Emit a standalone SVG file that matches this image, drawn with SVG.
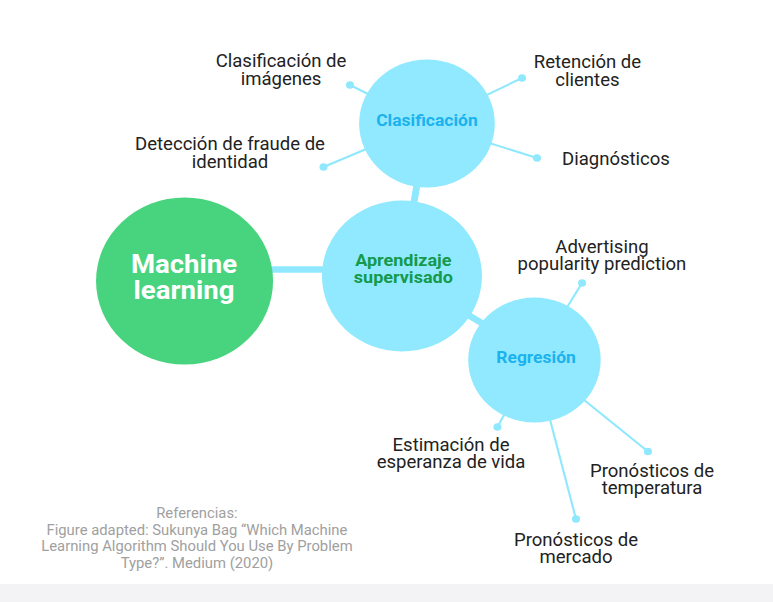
<svg xmlns="http://www.w3.org/2000/svg" width="773" height="602" viewBox="0 0 773 602">
<style>
.bg{fill:#ffffff}
.strip{fill:#f3f3f5}
.thick{stroke:#8fe8fd;stroke-width:6.5;fill:none}
.thin{stroke:#8fe8fd;stroke-width:2;fill:none}
.dot{fill:#8fe8fd}
.bub{fill:#90e9fe}
.ml{fill:#48d47f}
.t{font-family:Roboto,"Liberation Sans",sans-serif;text-anchor:middle}
.leaf{font-size:17.5px;fill:#222222}
.mlt{font-size:26px;font-weight:700;fill:#ffffff}
.apt{font-size:17px;font-weight:700;fill:#15994a}
.cat{font-size:16.5px;font-weight:700;fill:#1cb2ee}
.ref{font-size:14px;fill:#a0a0a0}
</style>
<rect class="bg" x="0" y="0" width="773" height="602"/>
<rect class="strip" x="0" y="584" width="773" height="18"/>
<g transform="scale(1.06,1)">
<g id="connectors">
<line class="thick" x1="230" y1="269.5" x2="330" y2="269.5"/>
<line class="thick" x1="402.8" y1="123.5" x2="379.2" y2="276"/>
<line class="thick" x1="405.7" y1="292" x2="481.1" y2="340"/>
<line class="thin" x1="330.2" y1="85" x2="402.8" y2="123.5"/>
<line class="thin" x1="305.2" y1="167" x2="402.8" y2="123.5"/>
<line class="thin" x1="492.5" y1="78" x2="402.8" y2="123.5"/>
<line class="thin" x1="506.6" y1="158" x2="402.8" y2="123.5"/>
<line class="thin" x1="549.1" y1="283" x2="504.2" y2="360"/>
<line class="thin" x1="469.3" y1="427" x2="504.2" y2="360"/>
<line class="thin" x1="611.3" y1="451.5" x2="504.2" y2="360"/>
<line class="thin" x1="543.4" y1="519" x2="504.2" y2="360"/>
<circle class="dot" cx="330.2" cy="85" r="3.8"/>
<circle class="dot" cx="305.2" cy="167" r="3.8"/>
<circle class="dot" cx="492.5" cy="78" r="3.8"/>
<circle class="dot" cx="506.6" cy="158" r="3.8"/>
<circle class="dot" cx="549.1" cy="283" r="3.8"/>
<circle class="dot" cx="469.3" cy="427" r="3.8"/>
<circle class="dot" cx="611.3" cy="451.5" r="3.8"/>
<circle class="dot" cx="543.4" cy="519" r="3.8"/>
</g>
<g id="machine-learning">
<circle class="ml" cx="174.1" cy="281" r="83.5"/>
<text class="t mlt" x="173.6" y="273.3">Machine</text>
<text class="t mlt" x="173.6" y="299.5">learning</text>
</g>
<g id="aprendizaje-supervisado">
<circle class="bub" cx="379.2" cy="276" r="75.5"/>
<text class="t apt" x="380.5" y="266">Aprendizaje</text>
<text class="t apt" x="380.5" y="283">supervisado</text>
</g>
<g id="clasificacion">
<circle class="bub" cx="402.8" cy="123.5" r="64"/>
<text class="t cat" x="402.8" y="126">Clasificación</text>
</g>
<g id="regresion">
<circle class="bub" cx="504.2" cy="360" r="62.5"/>
<text class="t cat" x="505.7" y="363">Regresión</text>
</g>
<g id="clasificacion-imagenes">
<text class="t leaf" x="265.1" y="67.5">Clasificación de</text>
<text class="t leaf" x="265.1" y="85.5">imágenes</text>
</g>
<g id="deteccion-fraude">
<text class="t leaf" x="217" y="150">Detección de fraude de</text>
<text class="t leaf" x="217" y="168">identidad</text>
</g>
<g id="retencion-clientes">
<text class="t leaf" x="554.2" y="68">Retención de</text>
<text class="t leaf" x="554.2" y="86">clientes</text>
</g>
<g id="diagnosticos">
<text class="t leaf" x="581.1" y="165">Diagnósticos</text>
</g>
<g id="advertising">
<text class="t leaf" x="567.9" y="253">Advertising</text>
<text class="t leaf" x="567.9" y="270.5">popularity prediction</text>
</g>
<g id="esperanza-vida">
<text class="t leaf" x="425.5" y="451.5">Estimación de</text>
<text class="t leaf" x="425.5" y="468.5">esperanza de vida</text>
</g>
<g id="temperatura">
<text class="t leaf" x="615.1" y="477">Pronósticos de</text>
<text class="t leaf" x="615.1" y="494">temperatura</text>
</g>
<g id="mercado">
<text class="t leaf" x="543.4" y="546.5">Pronósticos de</text>
<text class="t leaf" x="543.4" y="563">mercado</text>
</g>
<g id="referencias">
<text class="t ref" x="185.8" y="518">Referencias:</text>
<text class="t ref" x="185.8" y="535">Figure adapted: Sukunya Bag “Which Machine</text>
<text class="t ref" x="185.8" y="551.5">Learning Algorithm Should You Use By Problem</text>
<text class="t ref" x="185.8" y="568">Type?”. Medium (2020)</text>
</g>
</g>
</svg>
